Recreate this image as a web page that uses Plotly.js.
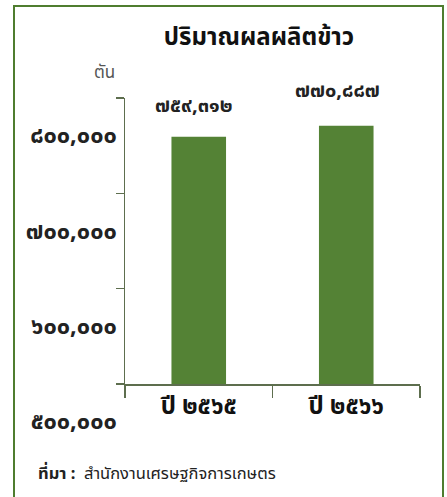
<!DOCTYPE html>
<html><head><meta charset="utf-8">
<script src="https://cdn.plot.ly/plotly-3.0.1.min.js"></script>
<style>html,body{margin:0;padding:0;background:#fff;}#chart{width:447px;height:497px;}</style>
</head><body><div id="chart"></div>
<script>
const categories = ["ปี ๒๕๖๕", "ปี ๒๕๖๖"];
const values = [759312, 770887];
const valueLabels = ["๗๕๙,๓๑๒", "๗๗๐,๘๘๗"];
const yTickVals = [500000, 600000, 700000, 800000];
const yTickText = ["๕๐๐,๐๐๐", "๖๐๐,๐๐๐", "๗๐๐,๐๐๐", "๘๐๐,๐๐๐"];
const titleText = "ปริมาณผลผลิตข้าว";
const unitText = "ตัน";
const sourceText = "<b>ที่มา :</b>  สำนักงานเศรษฐกิจการเกษตร";

const FONT = "Noto Sans, Noto Sans Thai, sans-serif";
const green = "#548235";
const axisCol = "#5d6e4e";

const trace = {
  type: "bar", x: categories, y: values,
  marker: {color: green},
  hoverinfo: "skip"
};

const labelShifts = [{xs:-5, ys:32},{xs:-9, ys:36}];
const annotations = categories.map((c,i)=>({
  x: c, y: values[i], xref:"x", yref:"y", text: valueLabels[i],
  showarrow:false, xshift: labelShifts[i].xs, yshift: labelShifts[i].ys,
  yanchor:"middle", font:{family:FONT, size:20, color:"#222", weight:"bold"}
}));
annotations.push({xref:"paper", yref:"paper", x:(104-125)/295, y:(384-71)/286, text:unitText,
  showarrow:false, xanchor:"center", yanchor:"middle", font:{family:FONT, size:17, color:"#555"}});
annotations.push({xref:"paper", yref:"paper", x:(36-125)/295, y:(384-472)/286, text:sourceText,
  showarrow:false, xanchor:"left", yanchor:"middle", font:{family:FONT, size:16.5, color:"#222"}});

const layout = {
  width:447, height:497,
  margin:{l:125, r:27, t:98, b:113},
  paper_bgcolor:"#fff", plot_bgcolor:"#fff",
  showlegend:false,
  bargap:0.63,
  title:{text:titleText, xref:"paper", x:(259-125)/295, xanchor:"center", y:1-37/497, yanchor:"middle",
    font:{family:FONT, size:24, color:"#111", weight:"bold"}},
  xaxis:{type:"category", showline:true, linecolor:axisCol, linewidth:1.5,
    ticks:"outside", tickson:"boundaries", ticklen:12, tickcolor:axisCol, tickwidth:1.5,
    tickfont:{family:FONT, size:24, color:"#111", weight:"bold"}, showgrid:false, zeroline:false,
    fixedrange:true},
  yaxis:{range:[500000, 800000], tickvals:yTickVals, ticktext:yTickText,
    showline:true, linecolor:axisCol, linewidth:1.5, ticks:"outside", ticklen:8,
    tickcolor:axisCol, tickwidth:1.5, showgrid:false, zeroline:false, ticklabelshift:37,
    ticklabelstandoff:-6,
    tickfont:{family:FONT, size:23.5, color:"#222", weight:"bold"}},
  shapes:[{type:"rect", xref:"paper", yref:"paper", x0:(14-125)/295, x1:(443-125)/295,
    y0:(384-520)/286, y1:(384-6)/286, line:{color:"#4f7d2f", width:2}, layer:"below"}],
  annotations: annotations
};
Plotly.newPlot("chart", [trace], layout, {displayModeBar:false, staticPlot:true});
</script></body></html>
